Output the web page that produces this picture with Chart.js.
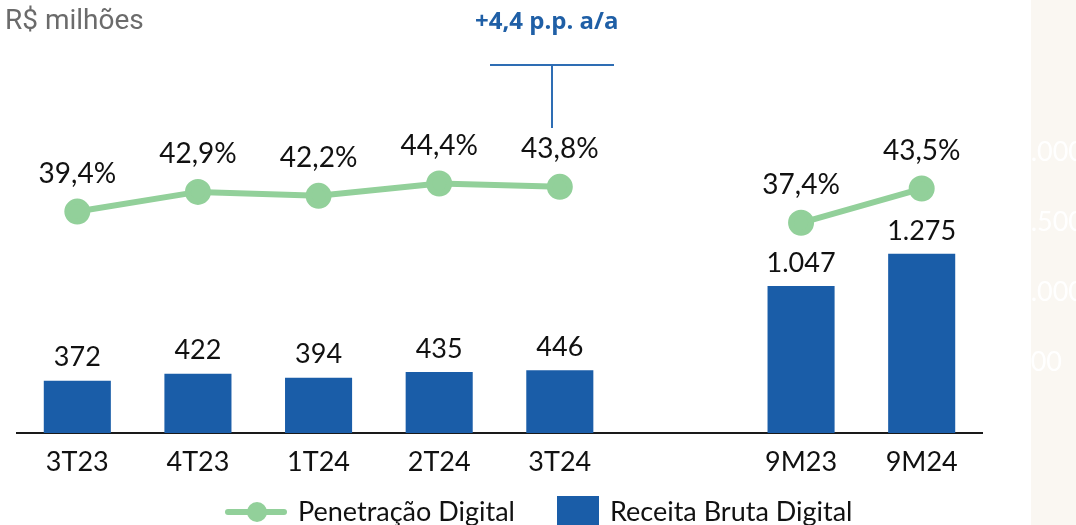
<!DOCTYPE html>
<html>
<head>
<meta charset="utf-8">
<script src="https://cdn.jsdelivr.net/npm/chart.js@4.4.1/dist/chart.umd.min.js"></script>
<style>
  body { margin: 0; width: 1076px; height: 525px; overflow: hidden; background: #fff; position: relative; font-family: Lato, "Noto Sans", sans-serif; }
  #beige { position: absolute; left: 1031px; top: 0; width: 45px; height: 525px; background: #faf7f2; }
  #wrap { position: absolute; left: 0; top: 0; width: 1076px; height: 525px; }
  #unit { position: absolute; left: 5px; top: 3px; font-family: Roboto, sans-serif; font-size: 28px; color: #6b6b6b; }
  #delta { position: absolute; left: 475px; top: 3px; font-family: "Open Sans", sans-serif; font-weight: bold; font-size: 24px; color: #1f5fa6; }
  .bracket { position: absolute; background: #2e6db4; }
  .legend-text { position: absolute; top: 495px; font-size: 27px; color: #111; line-height: 32px; }
</style>
</head>
<body>
<div id="beige"></div>
<div id="wrap"><canvas id="chart" width="1076" height="525"></canvas></div>
<div id="unit">R$ milhões</div>
<div id="delta">+4,4 p.p. a/a</div>
<div class="bracket" style="left:490px; top:64px; width:124px; height:2px;"></div>
<div class="bracket" style="left:551px; top:64px; width:2px; height:64px;"></div>

<div style="position:absolute; left:225px; top:509px; width:62px; height:6px; border-radius:3px; background:#92d09a;"></div>
<div style="position:absolute; left:247px; top:502px; width:20px; height:20px; border-radius:50%; background:#92d09a;"></div>
<div class="legend-text" style="left:298px;">Penetração Digital</div>
<div style="position:absolute; left:557px; top:496px; width:42px; height:40px; background:#1a5da8;"></div>
<div class="legend-text" style="left:610px;">Receita Bruta Digital</div>

<script>
let periods = ["3T23", "4T23", "1T24", "2T24", "3T24", "", "9M23", "9M24"];
let receitaBruta = [372, 422, 394, 435, 446, null, 1047, 1275];
let penetracao = [39.4, 42.9, 42.2, 44.4, 43.8, null, 37.4, 43.5];

function formatReceita(v) {
  return v.toLocaleString("pt-BR");
}

function formatPercent(v) {
  return v.toFixed(1).replace(".", ",") + "%";
}

// escreve os valores em cima das barras e dos pontos
const valueLabels = {
  id: "valueLabels",
  afterDatasetsDraw(chart) {
    const ctx = chart.ctx;
    ctx.save();
    ctx.fillStyle = "#111";
    ctx.textAlign = "center";
    ctx.textBaseline = "middle";
    chart.data.datasets.forEach((ds, d) => {
      let meta = chart.getDatasetMeta(d);
      meta.data.forEach((el, i) => {
        let v = ds.data[i];
        if (v === null) return;
        if (ds.type === "bar") {
          ctx.font = "27px Lato";
          ctx.fillText(formatReceita(v), el.x, el.y - 23);
        } else {
          ctx.font = "28px Lato";
          ctx.fillText(formatPercent(v), el.x, el.y - 38);
        }
      });
    });
    ctx.restore();
  },
};

function renderChart() {
  const chart = document.getElementById("chart");
  new Chart(chart, {
    data: {
      labels: periods,
      datasets: [
        {
          type: "line",
          label: "Penetração Digital",
          data: penetracao,
          yAxisID: "y1",
          borderColor: "#92d09a",
          backgroundColor: "#92d09a",
          borderWidth: 6,
          pointRadius: 10,
          pointHoverRadius: 10,
          spanGaps: false,
          order: 0,
        },
        {
          type: "bar",
          label: "Receita Bruta Digital",
          data: receitaBruta,
          yAxisID: "y",
          backgroundColor: "#1a5da8",
          categoryPercentage: 1,
          barPercentage: 0.556,
          order: 1,
        },
      ],
    },
    options: {
      responsive: false,
      animation: false,
      layout: { padding: { top: 152, left: 17, right: 0, bottom: 0 } },
      plugins: {
        legend: { display: false },
        title: { display: false },
        tooltip: { enabled: false },
      },
      scales: {
        x: {
          grid: { display: false },
          border: { display: true, color: "#1a1a1a", width: 2 },
          ticks: { color: "#111", font: { family: "Lato", size: 27 }, padding: 5 },
          afterFit: (axis) => { axis.height = 92; },
        },
        y: {
          position: "right",
          min: 0,
          max: 2000,
          grid: { display: false, drawTicks: false },
          border: { display: false },
          ticks: {
            stepSize: 500,
            color: "#ffffff",
            padding: 33,
            font: { family: "Lato", size: 27 },
            callback: (v) => (v === 0 ? "0" : v.toLocaleString("pt-BR")),
          },
          afterFit: (axis) => { axis.width = 94; },
        },
        y1: {
          display: false,
          position: "left",
          min: 0,
          max: 50,
        },
      },
    },
    plugins: [valueLabels],
  });
}

renderChart();
</script>
</body>
</html>
